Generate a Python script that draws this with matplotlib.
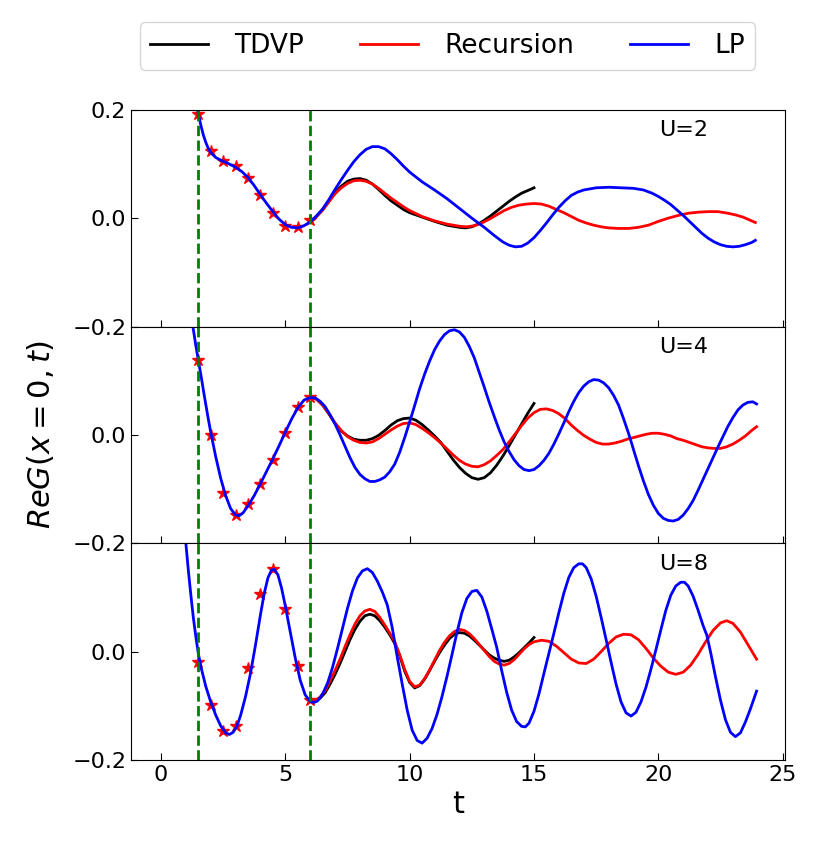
import numpy as np
import matplotlib
matplotlib.use('Agg')
import matplotlib.pyplot as plt

# ---- U=2 ----
t_lp_2 = [1.4, 1.5, 1.6, 1.7, 1.8, 1.9, 2.0, 2.2, 2.4, 2.7, 3.0, 3.25, 3.5, 3.75, 4.0, 4.25, 4.5,
          4.75, 5.0, 5.25, 5.5, 5.75, 6.0, 6.25, 6.5, 6.75, 7.0, 7.25, 7.5, 7.75, 8.0, 8.25, 8.5,
          8.75, 9.0, 9.25, 9.5, 9.75, 10.0, 10.5, 11.0, 11.5, 12.0, 12.5, 13.0, 13.4, 13.75, 14.0,
          14.25, 14.5, 14.75, 15.0, 15.25, 15.5, 15.75, 16.0, 16.25, 16.5, 16.75, 17.0, 17.5, 18.0,
          18.5, 19.0, 19.4, 19.75, 20.0, 20.25, 20.5, 20.75, 21.0, 21.25, 21.5, 21.75, 22.0, 22.25,
          22.5, 22.75, 23.0, 23.25, 23.5, 23.75, 23.9]
lp_2 = [0.215, 0.193, 0.172, 0.154, 0.140, 0.129, 0.121, 0.112, 0.107, 0.101, 0.094, 0.086, 0.075,
        0.060, 0.043, 0.027, 0.012, -0.002, -0.012, -0.017, -0.018, -0.014, -0.007, 0.004, 0.017,
        0.034, 0.053, 0.071, 0.088, 0.104, 0.117, 0.127, 0.132, 0.132, 0.128, 0.119, 0.108, 0.096,
        0.085, 0.067, 0.052, 0.036, 0.018, 0.0, -0.017, -0.032, -0.044, -0.050, -0.053, -0.052,
        -0.046, -0.036, -0.023, -0.009, 0.006, 0.020, 0.032, 0.042, 0.048, 0.052, 0.056, 0.057,
        0.056, 0.055, 0.052, 0.046, 0.040, 0.033, 0.025, 0.015, 0.005, -0.006, -0.017, -0.028,
        -0.037, -0.044, -0.049, -0.052, -0.053, -0.052, -0.049, -0.045, -0.041]

t_tdvp_2 = [6.0, 6.25, 6.5, 6.75, 7.0, 7.25, 7.5, 7.75, 8.0, 8.25, 8.5, 8.75, 9.0, 9.25, 9.5, 9.75,
            10.0, 10.5, 11.0, 11.5, 12.0, 12.25, 12.5, 12.75, 13.0, 13.25, 13.5, 13.75, 14.0, 14.25,
            14.5, 14.75, 15.0]
tdvp_2 = [-0.007, 0.003, 0.015, 0.031, 0.047, 0.059, 0.068, 0.072, 0.073, 0.070, 0.063, 0.053,
          0.042, 0.032, 0.024, 0.016, 0.010, 0.002, -0.006, -0.013, -0.017, -0.018, -0.016, -0.011,
          -0.004, 0.004, 0.013, 0.022, 0.031, 0.039, 0.046, 0.051, 0.056]

t_rec_2 = [6.0, 6.25, 6.5, 6.75, 7.0, 7.25, 7.5, 7.75, 8.0, 8.25, 8.5, 8.75, 9.0, 9.25, 9.5, 9.75,
           10.0, 10.5, 11.0, 11.5, 12.0, 12.3, 12.6, 12.9, 13.2, 13.5, 13.8, 14.1, 14.4, 14.7, 15.0,
           15.3, 15.6, 15.9, 16.2, 16.5, 16.8, 17.1, 17.4, 17.7, 18.0, 18.4, 18.8, 19.2, 19.6, 20.0,
           20.4, 20.8, 21.2, 21.6, 22.0, 22.4, 22.8, 23.1, 23.4, 23.7, 23.9]
rec_2 = [-0.007, 0.003, 0.015, 0.030, 0.045, 0.056, 0.064, 0.069, 0.070, 0.068, 0.063, 0.055, 0.046,
         0.037, 0.029, 0.021, 0.014, 0.003, -0.005, -0.011, -0.015, -0.016, -0.014, -0.009, -0.002,
         0.006, 0.014, 0.020, 0.024, 0.026, 0.027, 0.026, 0.022, 0.016, 0.010, 0.003, -0.004,
         -0.009, -0.013, -0.016, -0.018, -0.019, -0.019, -0.017, -0.013, -0.006, 0.0, 0.005, 0.009,
         0.011, 0.012, 0.012, 0.009, 0.006, 0.002, -0.004, -0.008]

# ---- U=4 ----
t_lp_4 = [1.2, 1.3, 1.4, 1.5, 1.6, 1.75, 1.9, 2.0, 2.2, 2.4, 2.6, 2.8, 3.0, 3.15, 3.3, 3.5, 3.75,
          4.0, 4.25, 4.5, 4.75, 5.0, 5.25, 5.5, 5.75, 6.0, 6.2, 6.4, 6.6, 6.8, 7.0, 7.2, 7.4, 7.6,
          7.8, 8.0, 8.2, 8.4, 8.6, 8.8, 9.0, 9.2, 9.4, 9.6, 9.8, 10.0, 10.2, 10.4, 10.6, 10.8, 11.0,
          11.2, 11.4, 11.6, 11.8, 12.0, 12.2, 12.4, 12.6, 12.8, 13.0, 13.2, 13.4, 13.6, 13.8, 14.0,
          14.2, 14.4, 14.6, 14.8, 15.0, 15.2, 15.4, 15.6, 15.8, 16.0, 16.2, 16.4, 16.6, 16.8, 17.0,
          17.2, 17.4, 17.6, 17.8, 18.0, 18.2, 18.4, 18.6, 18.8, 19.0, 19.2, 19.4, 19.6, 19.8, 20.0,
          20.2, 20.4, 20.6, 20.8, 21.0, 21.2, 21.4, 21.6, 21.8, 22.0, 22.2, 22.4, 22.6, 22.8, 23.0,
          23.2, 23.4, 23.6, 23.8, 23.95]
lp_4 = [0.23, 0.195, 0.165, 0.138, 0.112, 0.070, 0.030, 0.005, -0.040, -0.080, -0.112, -0.136,
        -0.148, -0.149, -0.144, -0.131, -0.112, -0.090, -0.067, -0.044, -0.020, 0.005, 0.029, 0.050,
        0.064, 0.069, 0.068, 0.062, 0.052, 0.037, 0.020, 0.0, -0.021, -0.042, -0.060, -0.073,
        -0.081, -0.086, -0.086, -0.083, -0.078, -0.068, -0.054, -0.032, -0.005, 0.024, 0.054,
        0.085, 0.112, 0.136, 0.157, 0.173, 0.185, 0.192, 0.194, 0.190, 0.180, 0.163, 0.142, 0.115,
        0.088, 0.060, 0.034, 0.009, -0.013, -0.031, -0.046, -0.057, -0.064, -0.066, -0.064, -0.057,
        -0.047, -0.034, -0.017, 0.002, 0.022, 0.043, 0.062, 0.078, 0.090, 0.098, 0.102, 0.101,
        0.096, 0.087, 0.073, 0.055, 0.030, 0.003, -0.027, -0.057, -0.085, -0.110, -0.130, -0.145,
        -0.154, -0.158, -0.159, -0.156, -0.148, -0.136, -0.121, -0.102, -0.082, -0.062, -0.042,
        -0.022, -0.003, 0.016, 0.032, 0.046, 0.055, 0.060, 0.061, 0.057]

t_tdvp_4 = [6.0, 6.25, 6.5, 6.75, 7.0, 7.25, 7.5, 7.75, 8.0, 8.25, 8.5, 8.75, 9.0, 9.25, 9.5, 9.75,
            10.0, 10.25, 10.5, 10.75, 11.0, 11.25, 11.5, 11.75, 12.0, 12.25, 12.5, 12.75, 13.0,
            13.25, 13.5, 13.75, 14.0, 14.25, 14.5, 14.75, 15.0]
tdvp_4 = [0.070, 0.066, 0.055, 0.039, 0.021, 0.007, -0.002, -0.008, -0.010, -0.010, -0.007, -0.001,
          0.008, 0.018, 0.026, 0.030, 0.031, 0.027, 0.019, 0.009, -0.002, -0.014, -0.030, -0.046,
          -0.060, -0.071, -0.079, -0.082, -0.079, -0.070, -0.056, -0.039, -0.020, 0.000, 0.020,
          0.040, 0.058]

t_rec_4 = [6.0, 6.25, 6.5, 6.75, 7.0, 7.25, 7.5, 7.75, 8.0, 8.25, 8.5, 8.75, 9.0, 9.25, 9.5, 9.75,
           10.0, 10.25, 10.5, 10.75, 11.0, 11.25, 11.5, 11.75, 12.0, 12.25, 12.5, 12.75, 13.0, 13.25,
           13.5, 13.75, 14.0, 14.25, 14.5, 14.75, 15.0, 15.25, 15.5, 15.75, 16.0, 16.25, 16.5,
           16.75, 17.0, 17.25, 17.5, 17.75, 18.0, 18.25, 18.5, 18.75, 19.0, 19.25, 19.5, 19.75,
           20.0, 20.25, 20.5, 20.75, 21.0, 21.25, 21.5, 21.75, 22.0, 22.25, 22.5, 22.75, 23.0,
           23.25, 23.5, 23.75, 23.95]
rec_4 = [0.070, 0.066, 0.055, 0.039, 0.022, 0.008, -0.003, -0.010, -0.014, -0.015, -0.013, -0.007,
         0.001, 0.009, 0.016, 0.021, 0.022, 0.019, 0.012, 0.004, -0.005, -0.015, -0.026, -0.037,
         -0.047, -0.054, -0.058, -0.059, -0.055, -0.048, -0.038, -0.027, -0.013, 0.002, 0.017,
         0.031, 0.041, 0.047, 0.048, 0.045, 0.039, 0.030, 0.018, 0.008, -0.001, -0.008, -0.014,
         -0.017, -0.017, -0.015, -0.012, -0.008, -0.005, -0.002, 0.001, 0.003, 0.003, 0.001,
         -0.002, -0.007, -0.010, -0.014, -0.018, -0.022, -0.024, -0.025, -0.025, -0.022, -0.017,
         -0.010, -0.002, 0.008, 0.015]

# ---- U=8 ----
t_lp_8 = [0.95, 1.0, 1.1, 1.2, 1.3, 1.4, 1.5, 1.6, 1.8, 2.0, 2.2, 2.4, 2.6, 2.75, 2.9, 3.05, 3.2,
          3.4, 3.6, 3.8, 4.0, 4.15, 4.3, 4.45, 4.55, 4.7, 4.85, 5.0, 5.2, 5.4, 5.6, 5.8, 6.0, 6.15,
          6.3, 6.5, 6.7, 6.9, 7.1, 7.3, 7.5, 7.7, 7.9, 8.1, 8.3, 8.5, 8.7, 8.9, 9.1, 9.3, 9.5, 9.7,
          9.9, 10.1, 10.3, 10.5, 10.7, 10.9, 11.1, 11.3, 11.5, 11.7, 11.9, 12.1, 12.3, 12.5, 12.7,
          12.9, 13.1, 13.3, 13.5, 13.7, 13.9, 14.1, 14.3, 14.5, 14.65, 14.8, 15.0, 15.2, 15.4, 15.6,
          15.8, 16.0, 16.2, 16.4, 16.6, 16.8, 16.95, 17.1, 17.3, 17.5, 17.7, 17.9, 18.1, 18.3, 18.5,
          18.7, 18.9, 19.1, 19.3, 19.5, 19.7, 19.9, 20.1, 20.3, 20.5, 20.7, 20.9, 21.05, 21.2, 21.4,
          21.6, 21.8, 21.95, 22.1, 22.3, 22.5, 22.7, 22.9, 23.1, 23.3, 23.5, 23.7, 23.95]
lp_8 = [0.24, 0.20, 0.15, 0.105, 0.063, 0.028, -0.003, -0.027, -0.064, -0.093, -0.117, -0.137,
        -0.150, -0.153, -0.149, -0.138, -0.118, -0.083, -0.040, 0.012, 0.068, 0.107, 0.136, 0.151,
        0.152, 0.142, 0.117, 0.084, 0.036, -0.012, -0.053, -0.080, -0.092, -0.094, -0.091, -0.078,
        -0.058, -0.029, 0.006, 0.043, 0.080, 0.112, 0.136, 0.149, 0.153, 0.146, 0.130, 0.110,
        0.086, 0.044, -0.010, -0.060, -0.108, -0.145, -0.164, -0.169, -0.160, -0.142, -0.116,
        -0.083, -0.046, -0.006, 0.035, 0.072, 0.098, 0.111, 0.113, 0.101, 0.075, 0.042, 0.008,
        -0.035, -0.075, -0.108, -0.129, -0.138, -0.139, -0.132, -0.110, -0.078, -0.040, -0.003,
        0.034, 0.072, 0.108, 0.137, 0.155, 0.162, 0.162, 0.155, 0.134, 0.102, 0.063, 0.022, -0.020,
        -0.060, -0.093, -0.113, -0.119, -0.112, -0.093, -0.066, -0.033, 0.003, 0.040, 0.076, 0.104,
        0.121, 0.128, 0.128, 0.121, 0.102, 0.076, 0.048, 0.030, -0.001, -0.047, -0.090, -0.126,
        -0.149, -0.157, -0.150, -0.130, -0.106, -0.073]

t_tdvp_8 = [6.0, 6.2, 6.4, 6.6, 6.8, 7.0, 7.2, 7.4, 7.6, 7.8, 8.0, 8.2, 8.4, 8.6, 8.8, 9.0, 9.2,
            9.4, 9.6, 9.8, 10.0, 10.2, 10.4, 10.6, 10.8, 11.0, 11.2, 11.4, 11.6, 11.8, 12.0, 12.2,
            12.4, 12.6, 12.8, 13.0, 13.2, 13.4, 13.6, 13.8, 14.0, 14.2, 14.4, 14.6, 14.8, 15.0]
tdvp_8 = [-0.090, -0.091, -0.086, -0.076, -0.060, -0.042, -0.022, 0.000, 0.022, 0.041, 0.056, 0.066,
          0.069, 0.066, 0.057, 0.045, 0.031, 0.015, -0.008, -0.036, -0.057, -0.067, -0.063, -0.051,
          -0.035, -0.018, -0.002, 0.012, 0.024, 0.032, 0.035, 0.034, 0.029, 0.021, 0.012, 0.003,
          -0.006, -0.012, -0.016, -0.018, -0.016, -0.010, -0.002, 0.007, 0.016, 0.026]

t_rec_8 = [6.0, 6.2, 6.4, 6.6, 6.8, 7.0, 7.2, 7.4, 7.6, 7.8, 8.0, 8.2, 8.4, 8.6, 8.8, 9.0, 9.2, 9.4,
           9.6, 9.8, 10.0, 10.2, 10.4, 10.6, 10.8, 11.0, 11.2, 11.4, 11.6, 11.8, 12.0, 12.2, 12.4,
           12.6, 12.8, 13.0, 13.2, 13.4, 13.6, 13.8, 14.0, 14.2, 14.4, 14.6, 14.8, 15.0, 15.3, 15.6,
           15.9, 16.2, 16.5, 16.8, 17.1, 17.4, 17.7, 18.0, 18.3, 18.6, 18.9, 19.2, 19.5, 19.8, 20.1,
           20.4, 20.7, 21.0, 21.3, 21.6, 21.9, 22.2, 22.5, 22.75, 23.0, 23.3, 23.6, 23.95]
rec_8 = [-0.090, -0.090, -0.084, -0.072, -0.054, -0.035, -0.014, 0.009, 0.031, 0.051, 0.066, 0.075,
         0.078, 0.074, 0.063, 0.049, 0.034, 0.018, -0.006, -0.033, -0.055, -0.065, -0.062, -0.050,
         -0.034, -0.016, 0.002, 0.017, 0.029, 0.037, 0.041, 0.039, 0.033, 0.024, 0.013, 0.002,
         -0.009, -0.018, -0.023, -0.025, -0.022, -0.015, -0.005, 0.005, 0.013, 0.018, 0.021, 0.019,
         0.010, -0.002, -0.014, -0.021, -0.022, -0.014, 0.000, 0.015, 0.027, 0.032, 0.031, 0.022,
         0.006, -0.012, -0.027, -0.038, -0.042, -0.038, -0.025, -0.005, 0.018, 0.039, 0.053, 0.057,
         0.052, 0.036, 0.013, -0.014]

# stars (fitting window)
t_star = [1.5, 2.0, 2.5, 3.0, 3.5, 4.0, 4.5, 5.0, 5.5, 6.0]
star_2 = [0.193, 0.124, 0.105, 0.096, 0.075, 0.042, 0.009, -0.015, -0.017, -0.004]
star_4 = [0.139, 0.0, -0.107, -0.148, -0.128, -0.090, -0.046, 0.004, 0.051, 0.070]
star_8 = [-0.020, -0.098, -0.147, -0.138, -0.030, 0.106, 0.152, 0.078, -0.027, -0.090]

u_labels = ['U=2', 'U=4', 'U=8']
window = [1.5, 6.0]

panels = [
    (t_tdvp_2, tdvp_2, t_rec_2, rec_2, t_lp_2, lp_2, star_2),
    (t_tdvp_4, tdvp_4, t_rec_4, rec_4, t_lp_4, lp_4, star_4),
    (t_tdvp_8, tdvp_8, t_rec_8, rec_8, t_lp_8, lp_8, star_8),
]

fig = plt.figure(figsize=(8.3, 8.51), dpi=100)
gs = fig.add_gridspec(3, 1, left=0.158, right=0.946, top=0.871, bottom=0.107, hspace=0)
axes = [fig.add_subplot(gs[i]) for i in range(3)]

for i, (ax, p) in enumerate(zip(axes, panels)):
    t_td, td, t_rc, rc, t_lp, lp, st = p
    l1, = ax.plot(t_td, td, color='k', lw=2, label='TDVP')
    l2, = ax.plot(t_rc, rc, color='r', lw=2, label='Recursion')
    ax.plot(t_star, st, ls='none', marker='*', color='r', ms=9)
    l3, = ax.plot(t_lp, lp, color='b', lw=2, label='LP')
    for w in window:
        ax.axvline(w, color='g', ls='--', lw=2)
    ax.set_xlim(-1.2, 25.1)
    ax.set_ylim(-0.2, 0.2)
    ax.set_yticks([-0.2, 0.0, 0.2])
    if i == 0:
        ax.set_yticklabels(['\u22120.2', '0.0', '0.2'])
    else:
        ax.set_yticklabels(['\u22120.2', '0.0', ''])
    ax.set_xticks([0, 5, 10, 15, 20, 25])
    if i < 2:
        ax.set_xticklabels([])
    ax.tick_params(direction='in', length=5, labelsize=16)
    ax.text(0.845, 0.905, u_labels[i], transform=ax.transAxes, ha='center', va='center', fontsize=16)

axes[1].set_ylabel('$ReG(x=0,t)$', fontsize=22, labelpad=12)
axes[2].set_xlabel('t', fontsize=22)

fig.legend([l1, l2, l3], ['TDVP', 'Recursion', 'LP'], loc='center', bbox_to_anchor=(0.539, 0.946),
           ncol=3, fontsize=19, handlelength=2.2, handletextpad=1.0, columnspacing=2.1)

plt.savefig('out.png', dpi=100)
